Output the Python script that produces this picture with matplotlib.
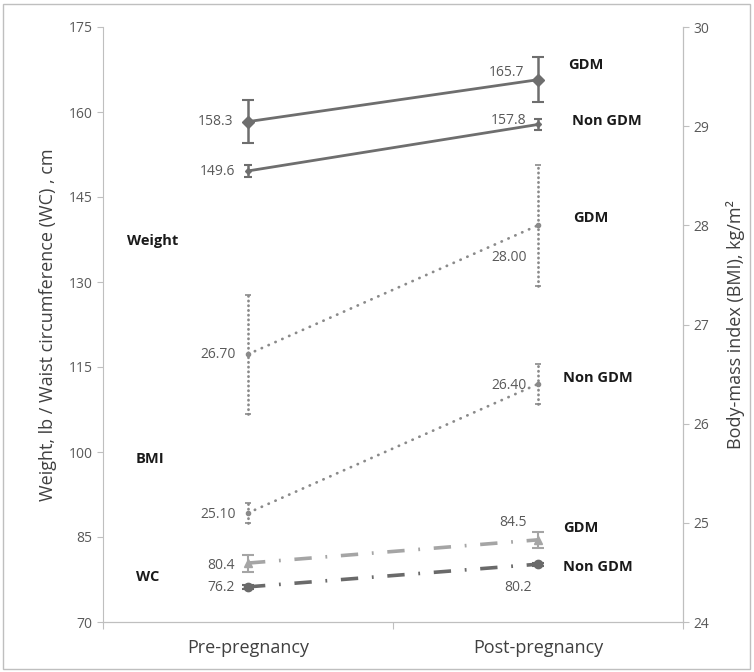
import matplotlib
matplotlib.use("Agg")
import matplotlib.pyplot as plt
from matplotlib.patches import Rectangle

plt.rcParams['font.family'] = ['Open Sans', 'DejaVu Sans']

categories = ["Pre-pregnancy", "Post-pregnancy"]
x = [0.5, 1.5]

weight_gdm = [158.3, 165.7]
weight_gdm_err = [3.8, 4.0]
weight_non = [149.6, 157.8]
weight_non_err = [1.0, 1.0]

bmi_gdm = [26.70, 28.00]
bmi_gdm_err = [0.6, 0.61]
bmi_non = [25.10, 26.40]
bmi_non_err = [0.1, 0.2]

wc_gdm = [80.4, 84.5]
wc_gdm_err = [1.5, 1.4]
wc_non = [76.2, 80.2]
wc_non_err = [0.3, 0.3]

left_ticks = [70, 85, 100, 115, 130, 145, 160, 175]
right_ticks = [24, 25, 26, 27, 28, 29, 30]

W, H = 754, 672
fig = plt.figure(figsize=(W / 100, H / 100), dpi=100)
fig.patches.append(Rectangle((3 / W, 3 / H), (W - 7) / W, (H - 7) / H, transform=fig.transFigure,
                             fill=False, edgecolor='#bfbfbf', linewidth=1.0))

ax = fig.add_axes([103 / W, 1 - 622 / H, 580 / W, 595 / H])
ax2 = ax.twinx()

spine_c = '#bfbfbf'
tick_c = '#595959'
for a in (ax, ax2):
    for s in a.spines.values():
        s.set_color(spine_c)
    a.spines['top'].set_visible(False)
    a.tick_params(colors=spine_c, labelcolor=tick_c, labelsize=10, length=4)
ax2.spines['left'].set_visible(False)

ax.set_xlim(0, 2)
ax.set_ylim(70, 175)
ax.set_yticks(left_ticks)
ax2.set_ylim(24, 30)
ax2.set_yticks(right_ticks)
ax.set_xticks([0, 1, 2])
ax.set_xticklabels([])
ax.set_xticks(x, minor=True)
ax.set_xticklabels(categories, minor=True)
ax.tick_params(axis='x', which='minor', length=0, labelsize=13, labelcolor='#404040', pad=12)
ax.tick_params(axis='x', which='major', length=5)

ax.set_ylabel("Weight, lb / Waist circumference (WC) , cm", fontsize=13, color='#404040', labelpad=8)
ax2.set_ylabel("Body-mass index (BMI), kg/m²", fontsize=13, color='#404040', labelpad=12)

lw_c = '#6e6e6e'
# Weight
ax.errorbar(x, weight_gdm, yerr=weight_gdm_err, color=lw_c, lw=2.0, marker='D', ms=6.5,
            capsize=4, elinewidth=1.8, capthick=1.5, zorder=4)
ax.errorbar(x, weight_non, yerr=weight_non_err, color=lw_c, lw=2.0, marker='D', ms=3,
            capsize=3, elinewidth=1.8, capthick=1.5, zorder=4)

# BMI (right axis)
bmi_c = '#8a8a8a'
for vals, errs in ((bmi_gdm, bmi_gdm_err), (bmi_non, bmi_non_err)):
    e = ax2.errorbar(x, vals, yerr=errs, color=bmi_c, lw=2.0, marker='o', ms=3,
                     capsize=2.5, elinewidth=2.0, capthick=1.2, zorder=4)
    e[0].set_dashes([0.1, 2.6])
    e[0].set_dash_capstyle('round')
    for c in e[2]:
        c.set_linestyle((0, (0.1, 1.6)))
        c.set_capstyle('round')

# WC
for vals, errs, c, m in ((wc_gdm, wc_gdm_err, '#a5a5a5', '^'), (wc_non, wc_non_err, '#6a6a6a', 'o')):
    e = ax.errorbar(x, vals, yerr=errs, color=c, lw=2.6, marker=m, ms=6,
                    capsize=4, elinewidth=1.5, capthick=1.5, zorder=4)
    e[0].set_dashes([4.8, 3.8, 0.5, 3.8])

lbl_c = '#595959'
def dl(axx, xv, yv, txt, dx, dy, ha='right'):
    axx.annotate(txt, (xv, yv), xytext=(dx, dy), textcoords='offset pixels',
                 ha=ha, va='center', fontsize=10, color=lbl_c, zorder=6)

dl(ax, x[0], weight_gdm[0], f"{weight_gdm[0]:.1f}", -15, 0)
dl(ax, x[0], weight_non[0], f"{weight_non[0]:.1f}", -13, -1)
dl(ax, x[1], weight_gdm[1], f"{weight_gdm[1]:.1f}", -14, 7)
dl(ax, x[1], weight_non[1], f"{weight_non[1]:.1f}", -12, 4)
dl(ax2, x[0], bmi_gdm[0], f"{bmi_gdm[0]:.2f}", -12, 0)
dl(ax2, x[1], bmi_gdm[1], f"{bmi_gdm[1]:.2f}", -11, -32)
dl(ax2, x[0], bmi_non[0], f"{bmi_non[0]:.2f}", -12, -2)
dl(ax2, x[1], bmi_non[1], f"{bmi_non[1]:.2f}", -11, -1)
dl(ax, x[0], wc_gdm[0], f"{wc_gdm[0]:.1f}", -13, -2)
dl(ax, x[0], wc_non[0], f"{wc_non[0]:.1f}", -13, -1)
dl(ax, x[1], wc_gdm[1], f"{wc_gdm[1]:.1f}", -11, 17)
dl(ax, x[1], wc_non[1], f"{wc_non[1]:.1f}", -20, -23, ha='center')

group_labels = [
    ("GDM", 1.603, 168.3), ("Non GDM", 1.617, 158.4),
    ("GDM", 1.621, 141.3), ("Non GDM", 1.586, 113.1),
    ("GDM", 1.586, 86.6), ("Non GDM", 1.586, 79.7),
    ("Weight", 0.083, 137.2), ("BMI", 0.114, 98.8), ("WC", 0.114, 77.9),
]
for t, gx, gy in group_labels:
    ax.text(gx, gy, t, ha='left', va='center', fontsize=10.5, fontweight='bold', color='#1a1a1a')

fig.savefig("out.png", dpi=100)
